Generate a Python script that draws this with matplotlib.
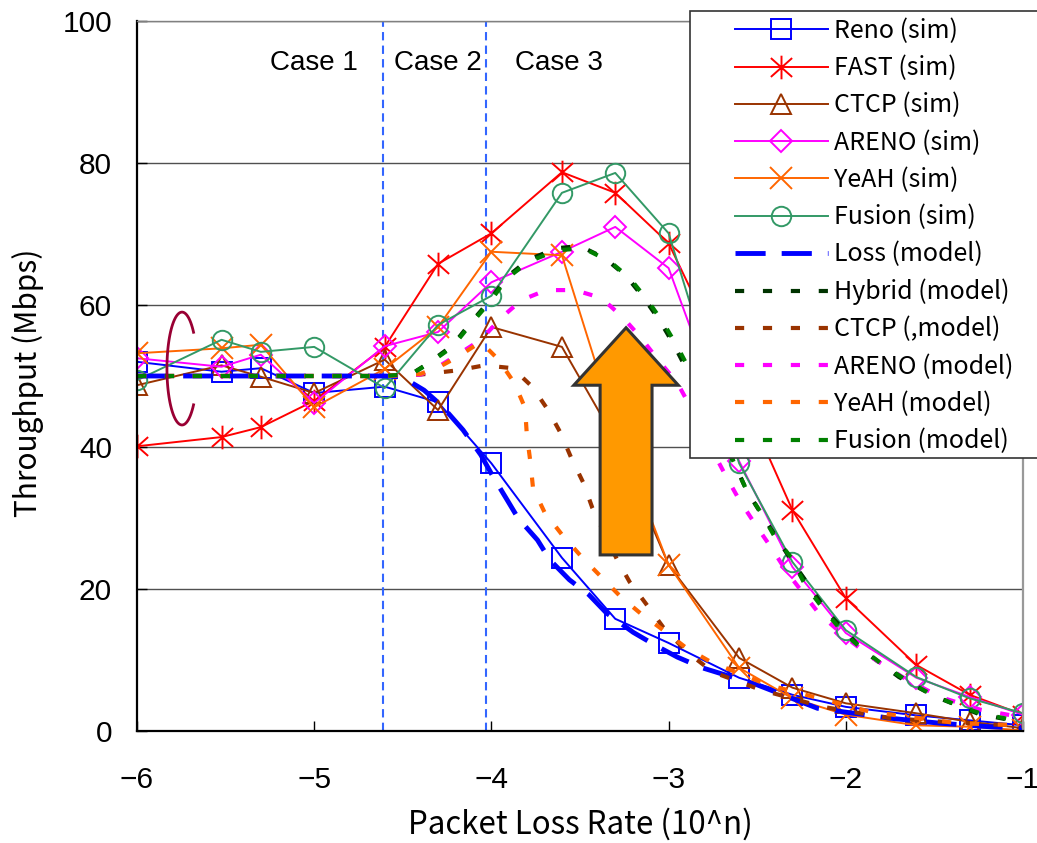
import numpy as np
import matplotlib
matplotlib.use('Agg')
import matplotlib.pyplot as plt
from matplotlib.patches import FancyArrow, Rectangle
from matplotlib.path import Path

plt.rcParams['font.family'] = ['Liberation Sans', 'DejaVu Sans']
JP = ['Noto Sans CJK JP', 'DejaVu Sans']

# packet loss rates used in the simulations
loss_rate = [1e-6, 3e-6, 5e-6, 1e-5, 2.5e-5, 5e-5, 1e-4, 2.5e-4, 5e-4, 1e-3,
             2.5e-3, 5e-3, 1e-2, 2.5e-2, 5e-2, 1e-1]

# simulated throughput (Mbps)
reno_sim = [52.0, 50.6, 51.1, 47.6, 48.5, 46.3, 37.7, 24.4, 15.8, 12.4, 7.5, 5.1, 3.4, 2.2, 1.5, 0.8]
fast_sim = [40.1, 41.4, 42.8, 46.5, 54.1, 65.8, 70.1, 78.7, 75.8, 68.7, 48.0, 31.1, 18.7, 9.3, 5.1, 2.3]
ctcp_sim = [48.7, 51.5, 49.9, 47.6, 52.3, 45.2, 56.9, 54.1, 41.0, 23.4, 10.3, 6.1, 3.9, 2.5, 1.3, 0.4]
areno_sim = [52.5, 51.3, 53.0, 46.2, 54.2, 56.2, 63.2, 67.5, 71.0, 65.2, 38.0, 23.1, 13.8, 7.5, 4.8, 2.3]
yeah_sim = [53.2, 53.9, 54.4, 45.6, 51.0, 56.9, 67.5, 67.0, 43.0, 23.4, 8.9, 4.6, 2.3, 0.8, 0.6, 0.1]
fusion_sim = [49.4, 55.1, 53.4, 54.1, 48.3, 57.2, 61.3, 75.8, 78.6, 70.1, 37.7, 23.8, 14.2, 7.6, 4.6, 2.5]

# model curves: exponent n of loss rate 10^n, throughput
loss_model_n = [-6.0, -4.6, -4.52, -4.46, -4.38, -4.28, -4.16, -4.06, -3.99, -3.91, -3.85, -3.74, -3.67,
                -3.56, -3.45, -3.35, -3.20, -3.07, -2.95, -2.81, -2.50, -2.16, -1.75, -1.47, -1.19, -1.0]
loss_model_y = [50, 50, 49.9, 49.2, 48.0, 45.8, 42.4, 38.9, 35.8, 32.5, 30.0, 26.9, 24.1,
                21.3, 19.2, 16.6, 13.9, 12.0, 10.4, 8.9, 6.5, 3.2, 1.8, 1.1, 0.6, 0.4]

hybrid_model_n = [-6.0, -4.6, -4.45, -4.35, -4.22, -4.12, -4.01, -3.91, -3.79, -3.63, -3.50, -3.36,
                  -3.24, -3.14, -3.05, -2.97, -2.90, -2.78, -2.68, -2.56, -2.45, -2.30, -2.10,
                  -1.90, -1.70, -1.50, -1.25, -1.0]
hybrid_model_y = [50, 50, 50.3, 51.9, 54.3, 57.4, 60.6, 64.0, 66.4, 68.0, 68.3, 66.6,
                  64.1, 61.0, 57.8, 54.4, 51.0, 46.0, 40.5, 33.9, 29.5, 23.8, 16.6,
                  11.3, 7.6, 4.9, 2.4, 1.2]

ctcp_model_n = [-6.0, -4.6, -4.4, -4.19, -4.04, -3.88, -3.77, -3.68, -3.61, -3.55, -3.48, -3.43,
                -3.29, -3.22, -3.13, -3.03, -2.90, -2.75, -2.48, -2.13, -1.75, -1.45, -1.0]
ctcp_model_y = [50, 50, 50.2, 50.8, 51.5, 51.1, 48.5, 45.2, 42.0, 38.5, 34.9, 31.4,
                24.1, 21.0, 18.0, 14.6, 11.2, 8.3, 5.8, 3.4, 1.8, 1.3, 0.7]

areno_model_n = [-6.0, -4.6, -4.4, -4.3, -4.19, -4.06, -3.94, -3.83, -3.69, -3.53, -3.38, -3.26,
                 -3.16, -3.06, -2.95, -2.88, -2.78, -2.67, -2.60, -2.50, -2.42, -2.33, -2.24,
                 -2.15, -1.99, -1.85, -1.68, -1.47, -1.24, -1.0]
areno_model_y = [50, 50, 50.2, 51.3, 53.0, 55.1, 58.3, 60.7, 62.1, 62.1, 61.0, 58.3,
                 55.5, 52.3, 49.0, 45.8, 40.8, 35.6, 32.5, 28.7, 25.8, 22.3, 19.4,
                 16.5, 13.0, 10.3, 7.6, 4.8, 3.0, 1.9]

yeah_model_n = [-6.0, -4.6, -4.4, -4.3, -4.19, -4.06, -3.96, -3.87, -3.81, -3.80, -3.78, -3.765,
                -3.70, -3.60, -3.49, -3.38, -3.27, -3.16, -3.03, -2.90, -2.76, -2.44, -1.86,
                -1.37, -1.0]
yeah_model_y = [50, 50, 50.3, 51.2, 52.7, 54.8, 52.3, 49.0, 45.5, 41.7, 37.9, 34.2,
                30.8, 27.6, 24.5, 21.7, 18.9, 16.6, 14.2, 11.7, 9.7, 6.5, 2.7,
                1.1, 0.8]

fusion_model_n = [-6.0, -4.6, -4.45, -4.35, -4.22, -4.12, -4.01, -3.91, -3.79, -3.63, -3.48, -3.33,
                  -3.22, -3.12, -3.03, -2.95, -2.88, -2.78, -2.68, -2.56, -2.47, -2.40, -2.31,
                  -2.23, -2.13, -2.02, -1.92, -1.80, -1.65, -1.52, -1.37, -1.23, -1.0]
fusion_model_y = [50, 50, 50.3, 51.8, 54.1, 57.2, 60.4, 63.8, 66.1, 67.7, 68.0, 66.1,
                  63.8, 60.7, 57.5, 54.1, 50.8, 46.0, 40.5, 33.9, 30.4, 27.3, 24.5,
                  20.6, 17.3, 14.0, 11.8, 9.5, 7.0, 5.2, 3.6, 2.4, 1.3]

case_labels = ['Case 1', 'Case 2', 'Case 3']
case_x = [-5.0, -4.30, -3.62]
case_bounds = [-4.61, -4.03]

x_sim = np.log10(loss_rate)

# FAST marker: vertical bar plus an X
star = Path([(0, 1), (0, -1), (-0.9, 0.8), (0.9, -0.8), (-0.9, -0.8), (0.9, 0.8)],
            [Path.MOVETO, Path.LINETO, Path.MOVETO, Path.LINETO, Path.MOVETO, Path.LINETO])

fig = plt.figure(figsize=(10.37, 8.43), dpi=100)
ax = fig.add_axes([137 / 1037, 1 - 731 / 843, 886 / 1037, 710 / 843])

sim_style = dict(lw=1.4, mfc='none', mew=1.4)
h = []
h += ax.plot(x_sim, reno_sim, color='#0000ff', marker='s', ms=14, label='Reno (sim)', **sim_style)
h += ax.plot(x_sim, fast_sim, color='#ff0000', marker=star, ms=17, label='FAST (sim)', **sim_style)
h += ax.plot(x_sim, ctcp_sim, color='#993300', marker='^', ms=15, label='CTCP (sim)', **sim_style)
h += ax.plot(x_sim, areno_sim, color='#ff00ff', marker='D', ms=11, label='ARENO (sim)', **sim_style)
h += ax.plot(x_sim, yeah_sim, color='#ff6600', marker='x', ms=16, label='YeAH (sim)', **sim_style)
h += ax.plot(x_sim, fusion_sim, color='#339966', marker='o', ms=14, label='Fusion (sim)', **sim_style)

short = (2.2, 4.5)
h += ax.plot(loss_model_n, loss_model_y, color='#0000ff', lw=3.5, dashes=(6.2, 3.3), label='Loss (model)')
h += ax.plot(hybrid_model_n, hybrid_model_y, color='#003300', lw=3, dashes=short, label='Hybrid (model)')
h += ax.plot(ctcp_model_n, ctcp_model_y, color='#993300', lw=3, dashes=short, label='CTCP (,model)')
h += ax.plot(areno_model_n, areno_model_y, color='#ff00ff', lw=3, dashes=short, label='ARENO (model)')
h += ax.plot(yeah_model_n, yeah_model_y, color='#ff6600', lw=3, dashes=short, label='YeAH (model)')
h += ax.plot(fusion_model_n, fusion_model_y, color='#008000', lw=3, dashes=short, label='Fusion (model)')

for xb in case_bounds:
    ax.axvline(xb, color='#3366ff', lw=1.5, ls=(0, (4, 2.5)), zorder=1)
for lab, xc in zip(case_labels, case_x):
    ax.text(xc, 94.1, lab, ha='center', va='center', fontsize=20)

# orange arrow and bracket
ax.add_patch(FancyArrow(-3.24, 24.8, 0, 32.0, width=0.293, head_width=0.59, head_length=8.1,
                        length_includes_head=True, fc='#ff9900', ec='#333333', lw=2.2, zorder=6))
t = np.radians(np.linspace(40, 320, 80))
ax.plot(-5.746 + 0.085 * np.cos(t), 51.05 + 7.95 * np.sin(t), color='#990033', lw=2.0)

ax.set_xlim(-6, -1)
ax.set_ylim(0, 100)
ax.set_xticks([-6, -5, -4, -3, -2, -1])
ax.set_yticks([0, 20, 40, 60, 80, 100])
ax.yaxis.grid(True, color='#505050', lw=1)
ax.set_axisbelow(True)
ax.tick_params(direction='in', length=7, width=1, labelsize=21.5, color='black')
ax.tick_params(axis='x', pad=25)
ax.tick_params(axis='y', pad=18)
for s in ['left', 'bottom']:
    ax.spines[s].set_linewidth(1.6)
    ax.spines[s].set_color('black')
ax.spines['top'].set_color('#808080')
ax.spines['top'].set_linewidth(1)
ax.spines['right'].set_color('#999999')
ax.spines['right'].set_linewidth(1.6)

ax.set_xlabel('Packet Loss Rate (10^n)', fontsize=22.5, family=JP, labelpad=10)
ax.set_ylabel('Throughput (Mbps)', fontsize=21.5, family=JP)
ax.yaxis.set_label_coords(-0.105, 0.49)

# legend box drawn by hand so the handles sit well inside it
fig.patches.append(Rectangle((690 / 1037, 1 - 458 / 843), 360 / 1037, 447 / 843,
                             transform=fig.transFigure, fc='white', ec='#333333', lw=1.2, zorder=3))
fig.legend(handles=h, loc='upper left', bbox_to_anchor=(735 / 1037, 1 - 18 / 843),
           bbox_transform=fig.transFigure, frameon=False, borderpad=0, borderaxespad=0,
           handlelength=3.7, handletextpad=0.25, labelspacing=0.45, numpoints=1,
           prop={'family': JP, 'size': 18})

fig.savefig('out.png', dpi=100)
